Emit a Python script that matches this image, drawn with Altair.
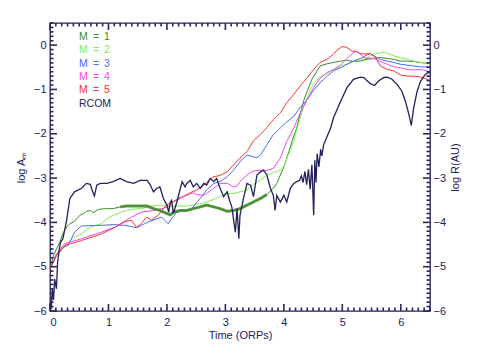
import altair as alt
import pandas as pd

NAVY = "#22225a"
TICK = "#262660"
FONT = "Liberation Sans"

# ---- data: (time [ORPs], log value) ----
rcom = [(0.0, -5.8), (0.02, -5.96), (0.04, -5.5), (0.06, -5.75), (0.08, -5.28), (0.11, -5.5),
        (0.13, -4.9), (0.16, -4.6), (0.18, -4.45), (0.22, -4.37), (0.28, -3.99), (0.34, -3.46),
        (0.42, -3.31), (0.54, -3.23), (0.62, -3.12), (0.69, -3.14), (0.73, -3.31), (0.76, -3.40),
        (0.80, -3.16), (0.86, -3.12), (0.97, -3.12), (1.08, -3.08), (1.20, -3.01), (1.31, -3.08),
        (1.43, -3.12), (1.54, -3.05), (1.66, -3.05), (1.71, -3.14), (1.77, -3.31), (1.83, -3.23),
        (1.88, -3.20), (1.94, -3.46), (2.00, -3.61), (2.03, -3.77), (2.06, -3.54), (2.08, -3.50),
        (2.11, -3.80), (2.17, -3.54), (2.23, -3.23), (2.26, -3.08), (2.31, -3.20), (2.34, -3.12),
        (2.40, -3.05), (2.45, -3.20), (2.51, -3.12), (2.57, -3.23), (2.63, -3.12), (2.68, -3.16),
        (2.74, -3.01), (2.80, -3.08), (2.85, -3.01), (2.91, -3.23), (2.97, -3.42), (3.03, -3.31),
        (3.08, -3.54), (3.11, -3.65), (3.17, -4.22), (3.20, -3.69), (3.23, -4.37), (3.25, -3.84),
        (3.31, -3.46), (3.37, -3.12), (3.43, -3.16), (3.48, -3.42), (3.54, -2.93), (3.60, -2.86),
        (3.65, -2.82), (3.71, -2.93), (3.77, -3.23), (3.82, -3.39), (3.85, -3.73), (3.88, -3.39),
        (3.94, -3.54), (4.00, -3.39), (4.05, -3.54), (4.11, -3.23), (4.17, -3.12), (4.22, -3.08),
        (4.27, -3.05), (4.30, -2.95), (4.33, -3.10), (4.36, -2.85), (4.39, -3.15), (4.42, -2.80),
        (4.45, -3.25), (4.48, -2.70), (4.51, -3.84), (4.53, -2.60), (4.55, -3.10), (4.57, -2.45),
        (4.60, -2.75), (4.63, -2.35), (4.65, -2.50), (4.68, -2.25), (4.74, -2.06), (4.80, -1.87),
        (4.85, -1.64), (4.97, -1.27), (5.08, -0.96), (5.19, -0.77), (5.31, -0.72), (5.37, -0.73),
        (5.42, -0.80), (5.48, -0.87), (5.55, -0.91), (5.62, -0.81), (5.71, -0.73), (5.77, -0.72),
        (5.85, -0.77), (5.94, -0.89), (6.02, -1.04), (6.08, -1.27), (6.14, -1.57), (6.18, -1.81),
        (6.22, -1.42), (6.28, -1.04), (6.34, -0.81), (6.42, -0.66), (6.50, -0.60)]

m1 = [(0.0, -5.05), (0.06, -4.75), (0.11, -4.6), (0.17, -4.44), (0.23, -4.22), (0.29, -4.1),
      (0.34, -4.03), (0.40, -3.99), (0.46, -3.92), (0.51, -3.84), (0.57, -3.8), (0.63, -3.75),
      (0.69, -3.73), (0.74, -3.78), (0.80, -3.73), (0.86, -3.70), (0.97, -3.69), (1.08, -3.69),
      (1.20, -3.65), (1.31, -3.63), (1.43, -3.63), (1.54, -3.63), (1.66, -3.63), (1.77, -3.69),
      (1.88, -3.73), (2.00, -3.8), (2.06, -3.83), (2.11, -3.77), (2.23, -3.73), (2.34, -3.73),
      (2.45, -3.69), (2.57, -3.65), (2.68, -3.61), (2.80, -3.65), (2.91, -3.69), (3.03, -3.75),
      (3.14, -3.73), (3.25, -3.69), (3.37, -3.61), (3.48, -3.54), (3.60, -3.46), (3.71, -3.37),
      (3.82, -3.23), (3.88, -3.12), (3.94, -2.93), (4.00, -2.75), (4.05, -2.55), (4.11, -2.30),
      (4.17, -2.05), (4.22, -1.87), (4.28, -1.55), (4.34, -1.25), (4.40, -1.04), (4.48, -0.77),
      (4.57, -0.58), (4.62, -0.47), (4.74, -0.42), (4.85, -0.39), (4.97, -0.36), (5.08, -0.34),
      (5.19, -0.37), (5.31, -0.36), (5.42, -0.32), (5.54, -0.30), (5.65, -0.28), (5.77, -0.30),
      (5.88, -0.32), (5.99, -0.36), (6.11, -0.36), (6.22, -0.37), (6.34, -0.39), (6.50, -0.42)]

m2 = [(0.0, -5.05), (0.09, -4.75), (0.19, -4.64), (0.29, -4.48), (0.40, -4.35), (0.54, -4.26),
      (0.63, -4.16), (0.74, -4.08), (0.88, -4.03), (0.97, -3.92), (1.08, -3.84), (1.22, -3.77),
      (1.31, -3.73), (1.43, -3.70), (1.56, -3.69), (1.66, -3.65), (1.77, -3.63), (1.88, -3.61),
      (2.00, -3.63), (2.11, -3.63), (2.23, -3.63), (2.34, -3.63), (2.45, -3.61), (2.57, -3.58),
      (2.68, -3.54), (2.80, -3.48), (2.91, -3.42), (2.97, -3.37), (3.03, -3.35), (3.14, -3.35),
      (3.25, -3.31), (3.37, -3.27), (3.48, -3.14), (3.60, -3.05), (3.71, -2.93), (3.82, -2.87),
      (3.94, -2.82), (4.00, -2.74), (4.05, -2.55), (4.11, -2.38), (4.17, -2.17), (4.22, -1.91),
      (4.28, -1.64), (4.34, -1.38), (4.40, -1.19), (4.45, -1.02), (4.51, -0.87), (4.62, -0.72),
      (4.74, -0.64), (4.85, -0.55), (4.97, -0.48), (5.08, -0.43), (5.19, -0.37), (5.31, -0.33),
      (5.42, -0.28), (5.54, -0.20), (5.65, -0.17), (5.71, -0.16), (5.77, -0.19), (5.88, -0.24),
      (5.99, -0.28), (6.11, -0.32), (6.22, -0.36), (6.34, -0.39), (6.50, -0.43)]

m3 = [(0.0, -5.05), (0.11, -4.75), (0.23, -4.56), (0.31, -4.52), (0.42, -4.22), (0.54, -4.08),
      (0.82, -4.07), (1.10, -4.05), (1.30, -4.07), (1.48, -4.12), (1.68, -3.99), (1.91, -3.88),
      (2.02, -4.03), (2.10, -3.88), (2.17, -3.77), (2.28, -3.73), (2.40, -3.73), (2.45, -3.65),
      (2.57, -3.46), (2.68, -3.27), (2.80, -3.12), (2.91, -3.08), (3.03, -2.97), (3.14, -2.82),
      (3.25, -2.63), (3.37, -2.48), (3.48, -2.52), (3.54, -2.54), (3.60, -2.48), (3.71, -2.25),
      (3.82, -2.02), (3.94, -1.87), (4.05, -1.73), (4.17, -1.61), (4.28, -1.40), (4.40, -1.23),
      (4.51, -1.02), (4.62, -0.85), (4.74, -0.70), (4.85, -0.58), (4.97, -0.51), (5.08, -0.43),
      (5.19, -0.36), (5.31, -0.30), (5.42, -0.22), (5.48, -0.19), (5.54, -0.24), (5.65, -0.32),
      (5.77, -0.36), (5.88, -0.39), (5.99, -0.43), (6.11, -0.45), (6.22, -0.47), (6.34, -0.49),
      (6.50, -0.49)]

m4 = [(0.0, -5.05), (0.11, -4.71), (0.25, -4.48), (0.54, -4.37), (0.88, -4.22), (1.11, -4.11),
      (1.34, -3.92), (1.56, -3.77), (1.79, -3.73), (2.02, -3.65), (2.10, -3.54), (2.20, -3.45),
      (2.34, -3.39), (2.45, -3.33), (2.51, -3.37), (2.63, -3.39), (2.68, -3.35), (2.80, -3.23),
      (2.91, -3.12), (3.03, -3.12), (3.14, -3.20), (3.20, -3.18), (3.25, -3.08), (3.37, -2.93),
      (3.48, -2.84), (3.60, -2.82), (3.71, -2.83), (3.82, -2.78), (3.94, -2.55), (4.05, -2.17),
      (4.17, -1.87), (4.28, -1.53), (4.40, -1.23), (4.51, -0.96), (4.62, -0.75), (4.74, -0.62),
      (4.85, -0.55), (4.97, -0.45), (5.08, -0.30), (5.19, -0.17), (5.25, -0.14), (5.34, -0.24),
      (5.40, -0.30), (5.48, -0.29), (5.54, -0.30), (5.65, -0.37), (5.77, -0.43), (5.88, -0.49),
      (5.99, -0.51), (6.11, -0.55), (6.22, -0.56), (6.34, -0.55), (6.45, -0.58), (6.50, -0.62)]

m5 = [(0.0, -5.05), (0.11, -4.75), (0.25, -4.52), (0.54, -4.41), (0.88, -4.26), (1.11, -4.11),
      (1.28, -3.99), (1.39, -3.95), (1.48, -4.11), (1.56, -4.03), (1.65, -3.88), (1.74, -3.95),
      (1.85, -3.84), (1.99, -3.61), (2.08, -3.55), (2.17, -3.50), (2.28, -3.42), (2.40, -3.33),
      (2.51, -3.27), (2.63, -3.16), (2.74, -3.03), (2.80, -2.97), (2.91, -2.94), (3.03, -2.86),
      (3.14, -2.70), (3.25, -2.55), (3.37, -2.40), (3.48, -2.16), (3.60, -2.01), (3.71, -1.86),
      (3.82, -1.68), (3.94, -1.53), (4.05, -1.30), (4.17, -1.11), (4.28, -0.92), (4.40, -0.73),
      (4.51, -0.55), (4.62, -0.39), (4.74, -0.32), (4.85, -0.20), (4.91, -0.11), (5.00, -0.03),
      (5.08, -0.05), (5.17, -0.14), (5.22, -0.13), (5.31, -0.19), (5.39, -0.20), (5.48, -0.19),
      (5.57, -0.28), (5.65, -0.47), (5.77, -0.55), (5.88, -0.58), (5.99, -0.67), (6.11, -0.70),
      (6.22, -0.70), (6.34, -0.72), (6.45, -0.77), (6.50, -0.80)]

series_names = ["M = 1", "M = 2", "M = 3", "M = 4", "M = 5"]
series_data = [m1, m2, m3, m4, m5]
series_colors = ["#3a8a2a", "#80ee50", "#4a6cf5", "#f048f0", "#f53535"]
legend_nums = ["1", "2", "3", "4", "5"]

x_major = [0, 1, 2, 3, 4, 5, 6]
y_major = [-6, -5, -4, -3, -2, -1, 0]
x_minor = [round(i * 0.1, 1) for i in range(66) if i % 10 != 0]
y_minor = [round(-6 + i * 0.1, 1) for i in range(66) if i % 10 != 0]

# ---- build tables ----
rows = []
for name, pts in zip(series_names, series_data):
    for t, v in pts:
        rows.append({"series": name, "t": t, "v": v})
df_m = pd.DataFrame(rows)
df_r = pd.DataFrame([{"t": t, "v": v} for t, v in rcom])

W, H = 380, 288
MAJ, MIN = 7, 3.5
xs = alt.Scale(domain=[0, 6.5], nice=False, zero=False)
ys = alt.Scale(domain=[-6, 0.5], nice=False, zero=False)

lab = dict(labelColor=NAVY, labelFont=FONT, labelFontSize=11, titleColor=NAVY,
           titleFont=FONT, titleFontSize=11, titleFontWeight="normal",
           ticks=False, domain=False, grid=False, format="d")

ax_bottom = alt.Axis(orient="bottom", values=x_major, title="Time (ORPs)",
                     labelPadding=5, titlePadding=2, **lab)
ax_left = alt.Axis(orient="left", values=y_major, title="log Aₘ",
                   labelPadding=4, titlePadding=7, **lab)
ax_right = alt.Axis(orient="right", values=y_major, title="log R(AU)", titleAngle=270,
                    titleBaseline="top", labelPadding=3, titlePadding=4, **lab)

lines = alt.Chart(df_m).mark_line(strokeWidth=1).encode(
    x=alt.X("t:Q", scale=xs, axis=ax_bottom),
    y=alt.Y("v:Q", scale=ys, axis=ax_left),
    color=alt.Color("series:N", scale=alt.Scale(domain=series_names, range=series_colors),
                    legend=None),
)

band = alt.Chart(df_m).transform_filter(
    (alt.datum.series == "M = 1") & (alt.datum.t >= 1.15) & (alt.datum.t <= 3.8)
).mark_line(strokeWidth=3, color="#4a8c32", opacity=0.9).encode(
    x=alt.X("t:Q", scale=xs, axis=None),
    y=alt.Y("v:Q", scale=ys, axis=None),
)

rline = alt.Chart(df_r).mark_line(strokeWidth=1.3, color=NAVY).encode(
    x=alt.X("t:Q", scale=xs, axis=None),
    y=alt.Y("v:Q", scale=ys, axis=ax_right),
)

# ---- inward ticks on all four edges (positions from the scales) ----
tick_layers = []
for vals, size in [(x_major, MAJ), (x_minor, MIN)]:
    dfx = pd.DataFrame({"t": vals})
    for y0, y1 in ((H, H - size), (0, size)):
        tick_layers.append(alt.Chart(dfx).mark_rule(stroke=TICK, strokeWidth=1.6).encode(
            x=alt.X("t:Q", scale=xs, axis=None), y=alt.value(y0), y2=alt.value(y1)))
for vals, size in [(y_major, MAJ), (y_minor, MIN)]:
    dfy = pd.DataFrame({"v": vals})
    for x0, x1 in ((0, size), (W, W - size)):
        tick_layers.append(alt.Chart(dfy).mark_rule(stroke=TICK, strokeWidth=1.6).encode(
            y=alt.Y("v:Q", scale=ys, axis=None), x=alt.value(x0), x2=alt.value(x1)))

# ---- legend (text) ----
leg_layers = []
LX, LY0, LDY = 29, 14, 13.33
for i, (name, col, num) in enumerate(zip(series_names, series_colors, legend_nums)):
    y = LY0 + i * LDY
    for txt, xx, al in [("M", LX, "left"), ("=", LX + 17, "center"), (num, LX + 28, "center")]:
        leg_layers.append(
            alt.Chart(pd.DataFrame({"label": [txt]})).mark_text(
                align=al, baseline="middle", font=FONT, fontSize=10.5, color=col
            ).encode(text="label:N", x=alt.value(xx), y=alt.value(y))
        )
leg_layers.append(
    alt.Chart(pd.DataFrame({"label": ["RCOM"]})).mark_text(
        align="left", baseline="middle", font=FONT, fontSize=10.5, color=NAVY
    ).encode(text="label:N", x=alt.value(LX), y=alt.value(LY0 + 5 * LDY))
)

chart = alt.layer(lines, band, rline, *tick_layers, *leg_layers).resolve_axis(
    x="independent", y="independent"
).properties(
    width=W, height=H,
    autosize=alt.AutoSizeParams(type="none"),
    padding={"left": 42, "top": 15, "right": 45, "bottom": 40},
    background="white",
).configure_view(stroke=NAVY, strokeWidth=1.3)

chart.save("out.html", embed_options={"renderer": "svg", "actions": False})
